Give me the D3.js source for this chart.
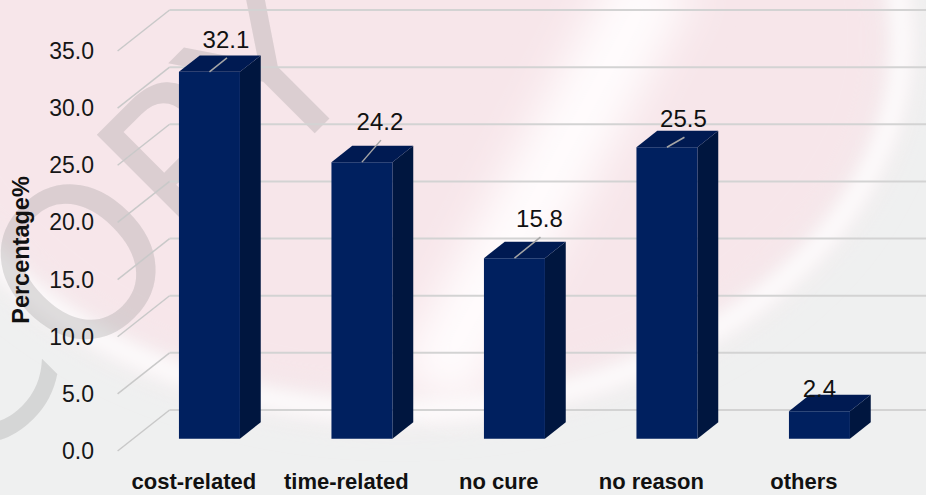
<!DOCTYPE html>
<html>
<head>
<meta charset="utf-8">
<script src="https://cdn.jsdelivr.net/npm/d3@7"></script>
<style>
  html, body { margin: 0; padding: 0; background: #eff0f0; }
  svg { display: block; }
</style>
</head>
<body>
<svg id="chart" width="926" height="495"></svg>
<script>
// Reasons given, share of respondents (%)
const categories = ["cost-related", "time-related", "no cure", "no reason", "others"];
const percentages = [32.1, 24.2, 15.8, 25.5, 2.4];
const yTicks = [0, 5, 10, 15, 20, 25, 30, 35];
const yTitle = "Percentage%";
const watermark = "COPY";

// Hand-placed data label offsets (from the bar's front-top centre to the label baseline)
const labelNudge = [[16.5, -24], [18, -32], [25, -31], [16.5, -20], [0, -14]];

const W = 926, H = 495;
const svg = d3.select("#chart");

// Oblique projection: z = 0 is the front plane, z = 1 the back wall
const wallDepth = { dx: 52, dy: 41 };
const barZ = [0.3, 0.7];
const P = (px, py, z) => [px + z * wallDepth.dx, py - z * wallDepth.dy];

const x = d3.scaleBand()
  .domain(categories)
  .range([117.6, 880.1])
  .paddingInner(0.6)
  .paddingOuter(0.3);

const y = d3.scaleLinear().domain([0, 35]).range([451, 51]);

// ---- background ----
const defs = svg.append("defs");
defs.append("filter").attr("id", "soft")
  .attr("x", "-50%").attr("y", "-50%").attr("width", "200%").attr("height", "200%")
  .append("feGaussianBlur").attr("stdDeviation", 22);
defs.append("filter").attr("id", "soft2")
  .attr("x", "-50%").attr("y", "-50%").attr("width", "200%").attr("height", "200%")
  .append("feGaussianBlur").attr("stdDeviation", 8);
defs.append("clipPath").attr("id", "frame")
  .append("rect").attr("width", W).attr("height", H);

const bg = svg.append("g").attr("clip-path", "url(#frame)");
bg.append("rect").attr("width", W).attr("height", H).attr("fill", "#eff0f0");
bg.append("ellipse")
  .attr("cx", 400).attr("cy", 40).attr("rx", 500).attr("ry", 370)
  .attr("fill", "#f7e6ea").attr("filter", "url(#soft)");
bg.append("ellipse")
  .attr("cx", 400).attr("cy", 40).attr("rx", 502).attr("ry", 372)
  .attr("fill", "none").attr("stroke", "#fdfafb").attr("stroke-width", 22)
  .attr("filter", "url(#soft2)");
bg.append("path")
  .attr("d", "M660,-30 Q560,160 430,390")
  .attr("fill", "none").attr("stroke", "#fffcfd").attr("stroke-width", 80)
  .attr("filter", "url(#soft)");

// watermark lettering
bg.append("text")
  .attr("transform", "translate(-30,478) rotate(-45)")
  .attr("font-family", "DejaVu Sans")
  .attr("font-size", 210)
  .attr("fill", "#8a8a8a")
  .attr("fill-opacity", 0.26)
  .text(watermark);

// ---- gridlines ----
const grid = svg.append("g");
const x0 = x.range()[0];
yTicks.forEach(v => {
  const f = P(x0, y(v), 0), b = P(x0, y(v), 1);
  grid.append("line")
    .attr("x1", f[0]).attr("y1", f[1]).attr("x2", b[0]).attr("y2", b[1])
    .attr("stroke", "#c9c9c9").attr("stroke-width", 1.5);
  grid.append("line")
    .attr("x1", b[0]).attr("y1", b[1]).attr("x2", W).attr("y2", b[1])
    .attr("stroke", "#d3d3d3").attr("stroke-width", 2);
});

// ---- y tick labels ----
const fmt = d3.format(".1f");
svg.append("g").selectAll("text")
  .data(yTicks).join("text")
  .attr("x", 94).attr("y", d => y(d))
  .attr("text-anchor", "end").attr("dominant-baseline", "central")
  .attr("font-family", "Liberation Sans, Arial, sans-serif")
  .attr("font-size", 23).attr("fill", "#161616")
  .text(d => fmt(d));

// ---- bars ----
const pts = a => a.map(p => p.join(",")).join(" ");
const bars = svg.append("g");
categories.forEach((c, i) => {
  const bx = x(c), w = x.bandwidth();
  const top = y(percentages[i]), base = y(0);
  const [z0, z1] = barZ;
  // side face
  bars.append("polygon")
    .attr("points", pts([P(bx + w, top, z0), P(bx + w, top, z1), P(bx + w, base, z1), P(bx + w, base, z0)]))
    .attr("fill", "#00163f");
  // top face
  bars.append("polygon")
    .attr("points", pts([P(bx, top, z0), P(bx + w, top, z0), P(bx + w, top, z1), P(bx, top, z1)]))
    .attr("fill", "#001a52");
  // front face
  bars.append("polygon")
    .attr("points", pts([P(bx, top, z0), P(bx + w, top, z0), P(bx + w, base, z0), P(bx, base, z0)]))
    .attr("fill", "#00205f");
});

// ---- data labels with leader lines ----
const labels = svg.append("g");
categories.forEach((c, i) => {
  const [cx, cy] = P(x(c) + x.bandwidth() / 2, y(percentages[i]), barZ[0]);
  const lx = cx + labelNudge[i][0], ly = cy + labelNudge[i][1];
  const sx = lx + 1, sy = ly + 10;
  if (Math.hypot(cx - sx, cy - sy) > 6 && sy < cy) {
    labels.append("line")
      .attr("x1", sx).attr("y1", sy).attr("x2", cx).attr("y2", cy)
      .attr("stroke", "#a6a6a6").attr("stroke-width", 1.5);
  }
  labels.append("text")
    .attr("x", lx).attr("y", ly)
    .attr("text-anchor", "middle")
    .attr("font-family", "Liberation Sans, Arial, sans-serif")
    .attr("font-size", 24).attr("fill", "#111")
    .text(fmt(percentages[i]));
});

// ---- category labels ----
svg.append("g").selectAll("text")
  .data(categories).join("text")
  .attr("x", d => x(d) + x.bandwidth() / 2)
  .attr("y", 489)
  .attr("text-anchor", "middle")
  .attr("font-family", "Liberation Sans, Arial, sans-serif")
  .attr("font-weight", "bold")
  .attr("font-size", 22).attr("fill", "#111")
  .text(d => d);

// ---- y title ----
svg.append("text")
  .attr("transform", "translate(29,250) rotate(-90)")
  .attr("text-anchor", "middle")
  .attr("font-family", "Liberation Sans, Arial, sans-serif")
  .attr("font-weight", "bold")
  .attr("font-size", 23.5).attr("fill", "#111")
  .text(yTitle);
</script>
</body>
</html>
